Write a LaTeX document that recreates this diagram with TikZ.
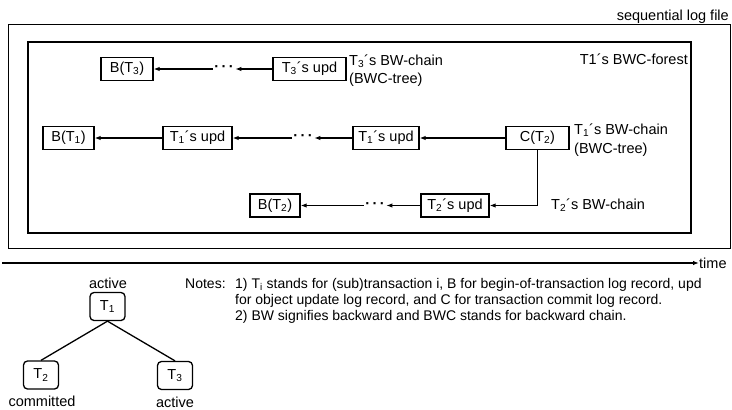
\documentclass[tikz,border=0pt]{standalone}
\usepackage{fontspec}
\setmainfont{Liberation Sans}
\usetikzlibrary{arrows.meta}
\newcommand{\Ts}[1]{T\textsubscript{#1}}

\begin{document}
\begin{tikzpicture}[x=1pt,y=-1pt,
  rec/.style={draw,line width=1.3pt,minimum height=23pt,inner xsep=4pt,
    font=\fontsize{14.5}{16}\selectfont},
  lbl/.style={inner sep=0pt,font=\fontsize{14.5}{17}\selectfont},
  nts/.style={inner sep=0pt,anchor=base west,font=\fontsize{14}{16}\selectfont},
  dotz/.style={inner sep=1.5pt,font=\fontsize{14.5}{16}\selectfont\bfseries},
  chain/.style={line width=1.3pt,-{Latex[length=6pt,width=4.5pt]}},
  tnode/.style={draw,rounded corners=4pt,line width=1.3pt,minimum width=35pt,
    minimum height=28pt,font=\fontsize{14.5}{16}\selectfont}]

\useasboundingbox (0,0) rectangle (732,410);

% log file and forest frames
\draw[line width=1pt] (8,24) rectangle (730,248);
\draw[line width=1.2pt] (28,42) rectangle (691,233);
\node[lbl,anchor=base east] (logf) at (729,20) {sequential log file};
\node[lbl,anchor=base east] (forest) at (688,64) {T1´s BWC-forest};

% T3 chain
\node[rec,minimum width=52pt] (b3) at (127,69) {B(\Ts3)};
\node[dotz] (d3) at (224,69) {·\,·\,·};
\node[rec,minimum width=73pt] (u3) at (309.5,69) {\Ts3´s upd};
\draw[chain] (u3) -- (d3);
\draw[chain] (d3) -- (b3);
\node[lbl,anchor=base west] (c3a) at (349,65) {\Ts3´s BW-chain};
\node[lbl,anchor=base west] (c3b) at (349,83) {(BWC-tree)};

% T1 chain
\node[rec,minimum width=51pt] (b1) at (68.5,138) {B(\Ts1)};
\node[rec,minimum width=69pt] (u1a) at (197.5,138) {\Ts1´s upd};
\node[dotz] (d1) at (303,138) {·\,·\,·};
\node[rec,minimum width=66pt] (u1b) at (386,138) {\Ts1´s upd};
\node[rec,minimum width=63pt] (c2) at (537.5,138) {C(\Ts2)};
\draw[chain] (c2) -- (u1b);
\draw[chain] (u1b) -- (d1);
\draw[chain] (d1) -- (u1a);
\draw[chain] (u1a) -- (b1);
\node[lbl,anchor=base west] (c1a) at (574,134) {\Ts1´s BW-chain};
\node[lbl,anchor=base west] (c1b) at (574,153) {(BWC-tree)};

% T2 chain
\node[rec,minimum width=50pt] (b2) at (275,205.5) {B(\Ts2)};
\node[dotz] (d2) at (375,205.5) {·\,·\,·};
\node[rec,minimum width=68pt] (u2) at (455,205.5) {\Ts2´s upd};
\draw[chain] (c2.south) |- (u2.east);
\draw[chain] (u2) -- (d2);
\draw[chain] (d2) -- (b2);
\node[lbl,anchor=base west] (c2a) at (551,209) {\Ts2´s BW-chain};

% time axis
\coordinate (t0) at (2,263);
\node[lbl,anchor=west] (time) at (699,263) {time};
\draw[chain] (t0) -- (time.west);

% transaction tree
\node[tnode] (t1) at (107.5,306.5) {\Ts1};
\node[tnode] (t2) at (41,375) {\Ts2};
\node[tnode] (t3) at (175,375.5) {\Ts3};
\draw[line width=1.3pt] (t1.south) -- (t2.north);
\draw[line width=1.3pt] (t1.south) -- (t3.north);
\node[lbl] (s1) at (108,283) {active};
\node[lbl] (s2) at (42,401) {committed};
\node[lbl] (s3) at (175,402) {active};

% notes
\node[nts] (notes) at (185,288) {Notes:};
\node[nts] (n1) at (235,288)
  {1) \Ts{i} stands for (sub)transaction i, B for begin-of-transaction log record, upd};
\node[nts] (n2) at (235,304)
  {for object update log record, and C for transaction commit log record.};
\node[nts] (n3) at (235,320)
  {2) BW signifies backward and BWC stands for backward chain.};

\end{tikzpicture}
\end{document}
